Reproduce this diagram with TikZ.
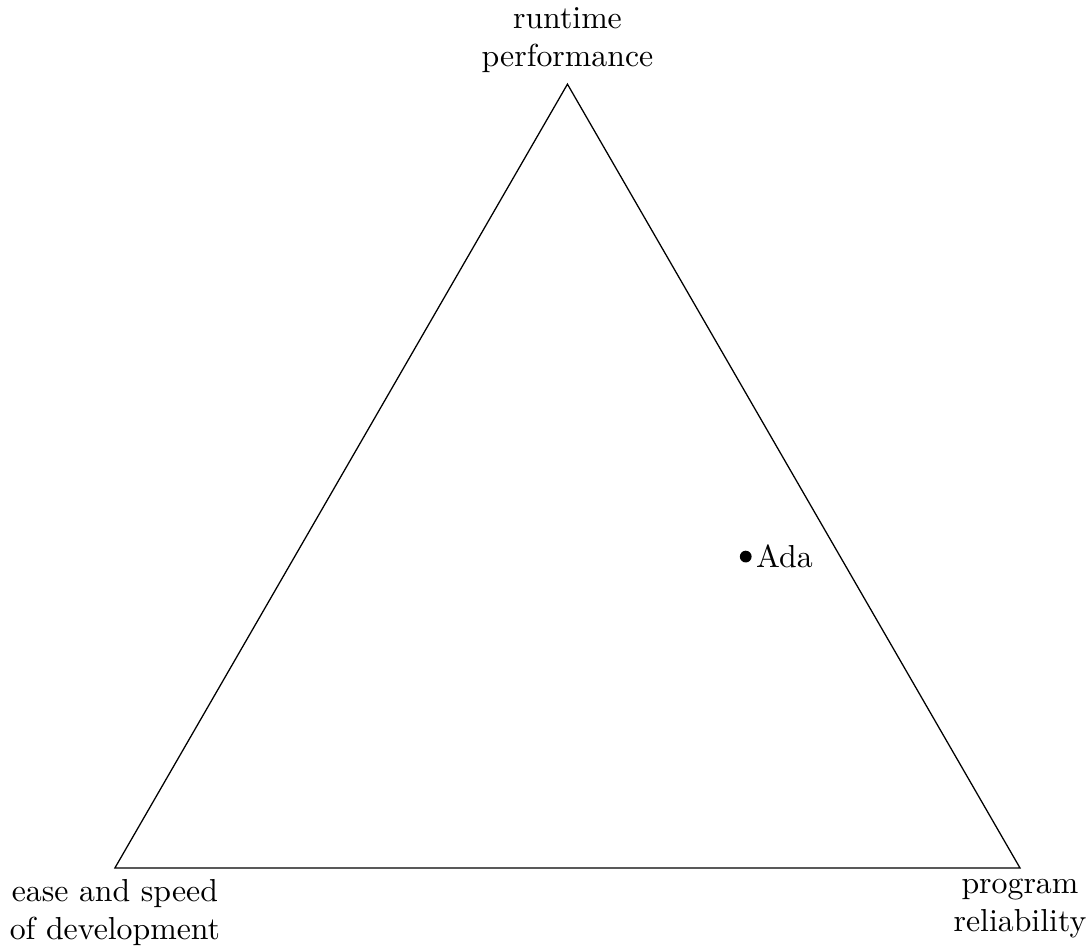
\documentclass[tikz,border=0pt]{standalone}
\begin{document}
\begin{tikzpicture}[x=1cm,y=1cm,
  vlabel/.style={align=center},
  dotpt/.style={circle,fill=black,inner sep=0pt,minimum size=0.13cm}]
\useasboundingbox (-1.27,-0.873) rectangle (10.796,9.59);
\coordinate (A) at (0,0);
\coordinate (B) at (10,0);
\coordinate (C) at (5,8.66);
\draw (A) -- (B) -- (C) -- cycle;
\node[vlabel,above] (lc) at (C) {runtime\\performance};
\node[vlabel,below] (la) at (A) {ease and speed\\of development};
\node[vlabel,below] (lb) at (B) {program\\reliability};
\node[dotpt] (ada) at (6.97,3.44) {};
\node[right,inner sep=1pt] (adal) at (ada.east) {Ada};
\end{tikzpicture}
\end{document}
